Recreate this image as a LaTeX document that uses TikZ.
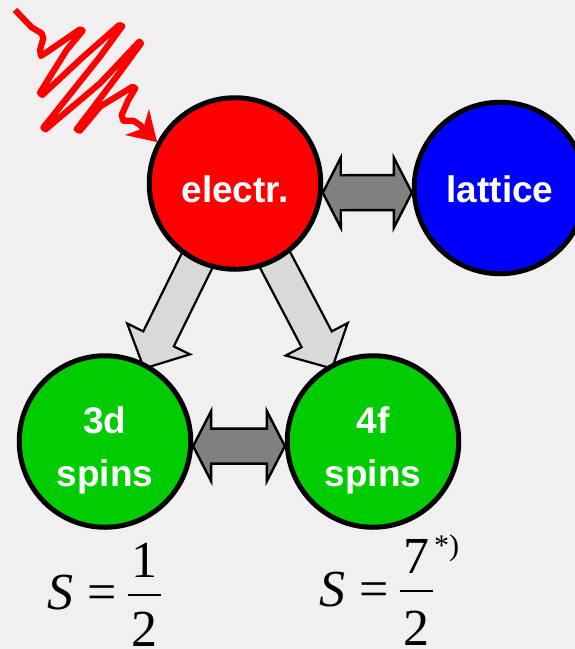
\documentclass[tikz,border=0pt]{standalone}
\usepackage{fontspec}
\setmainfont{Liberation Sans}
\newfontfamily\eqfont{Liberation Serif}
\usetikzlibrary{calc}
\pgfdeclarelayer{back}
\pgfsetlayers{back,main}
\definecolor{paper}{RGB}{241,239,240}
\definecolor{dgreen}{RGB}{0,204,0}
\definecolor{lightarrow}{RGB}{217,217,217}
\definecolor{darkarrow}{RGB}{128,128,128}
\tikzset{
  ball/.style={circle,draw=black,line width=5pt,minimum size=171.5pt,inner sep=0pt,
    text=white,align=center,font=\fontsize{37}{53}\selectfont\bfseries},
  fatarrow/.style={draw=black,line width=2.2pt,fill=lightarrow,line join=miter},
  twoarrow/.style={draw=black,line width=2.4pt,fill=darkarrow,line join=miter},
  eq/.style={inner sep=0pt,anchor=base,text=black,font=\fontsize{52}{52}\selectfont\eqfont},
  barline/.style={draw=black,line width=2pt},
  wave/.style={draw=red,line width=6.2pt,line join=round,line cap=butt},
}
\newcommand{\twolines}[2]{\raisebox{0pt}[\dimexpr\height+16pt\relax][\depth]{\begin{tabular}{@{}c@{}}#1\\#2\end{tabular}}}
\newcommand{\fatarrowto}[2]{%
  \coordinate (hb) at ($(#2)!33pt!(#1)$);
  \draw[fatarrow] ($(#1)!17pt!90:(#2)$) -- ($(hb)!17pt!90:(#2)$) -- ($(hb)!35pt!90:(#2)$) -- (#2)
    -- ($(hb)!35pt!-90:(#2)$) -- ($(hb)!17pt!-90:(#2)$) -- ($(#1)!17pt!-90:(#2)$) -- cycle;}
\newcommand{\twoarrowbetween}[2]{%
  \coordinate (ha) at ($(#1)!18pt!(#2)$);
  \coordinate (hb) at ($(#2)!18pt!(#1)$);
  \draw[twoarrow] (#1) -- ($(ha)!35pt!90:(#2)$) -- ($(ha)!17.5pt!90:(#2)$)
    -- ($(hb)!17.5pt!-90:(#1)$) -- ($(hb)!35pt!-90:(#1)$) -- (#2)
    -- ($(hb)!35pt!90:(#1)$) -- ($(hb)!17.5pt!90:(#1)$)
    -- ($(ha)!17.5pt!-90:(#2)$) -- ($(ha)!35pt!-90:(#2)$) -- cycle;}
\begin{document}
\begin{tikzpicture}[x=1pt,y=-1pt]
\useasboundingbox (0,0) rectangle (575,649);
\begin{pgfonlayer}{back}
  \fill[paper] (0,0) rectangle (575,649);
\end{pgfonlayer}
\begin{scope}
  \clip (0,0) rectangle (575,649);
  \node[ball,fill=red] (electr) at (235,183.5) {\rule{0pt}{39pt}electr.};
  \node[ball,fill=blue] (lattice) at (500,188) {\rule{0pt}{30pt}lattice};
  \node[ball,fill=dgreen] (spinsd) at (105,441.5) {\twolines{3d}{spins}};
  \node[ball,fill=dgreen] (spinsf) at (373,441.5) {\twolines{4f}{spins}};
\end{scope}
\coordinate (tipd) at ($(spinsd)+(39,-73)$);
\coordinate (tipf) at ($(spinsf)+(-41,-73)$);
\begin{pgfonlayer}{back}
  \fatarrowto{electr.center}{tipd}
  \fatarrowto{electr.center}{tipf}
\end{pgfonlayer}
\twoarrowbetween{electr.-6}{lattice.183}
\twoarrowbetween{spinsd.-3}{spinsf.183}
% photon
\begin{scope}[x=.3333pt,y=-.3333pt]
  \coordinate (wavestart) at (45,30);
  \draw[wave] (wavestart) -- (95,82) -- (125,100) -- (130,115) -- (120,150) -- (123,168)
    -- (150,150) -- (240,88) -- (248,92) -- (200,150) -- (120,278) -- (127,285)
    -- (250,170) -- (358,75) -- (367,78) -- (300,170) -- (130,383) -- (137,388)
    -- (300,250) -- (418,125) -- (423,130) -- (350,230) -- (230,388) -- (240,392)
    -- (300,320) -- (398,260) -- (406,265) -- (385,300) -- (365,345) -- (370,362)
    -- (400,362) -- (420,375) -- (445,402);
  \fill[red] (electr.152) -- (447,327) -- (430,385) -- (375,405) -- cycle;
\end{scope}
% spin values
\node[eq,anchor=base west,font=\fontsize{52}{52}\selectfont\eqfont\itshape] (sd) at (47,609) {S};
\node[eq,anchor=base west] (eqd) at (87,609) {=};
\node[eq] (numd) at (144,577) {1};
\node[eq] (dend) at (144,646) {2};
\coordinate (bard) at (144,595);
\draw[barline] ($(bard)+(-16.5,0)$) -- ($(bard)+(16.5,0)$);
\node[eq,anchor=base west,font=\fontsize{52}{52}\selectfont\eqfont\itshape] (sf) at (319,606) {S};
\node[eq,anchor=base west] (eqf) at (359,606) {=};
\node[eq] (numf) at (416,573) {7};
\node[eq] (denf) at (416,645) {2};
\coordinate (barf) at (416,591);
\draw[barline] ($(barf)+(-16.5,0)$) -- ($(barf)+(16.5,0)$);
\node[eq,anchor=base west,font=\fontsize{30}{30}\selectfont\eqfont] (note) at (434,555) {*)};
\end{tikzpicture}
\end{document}
